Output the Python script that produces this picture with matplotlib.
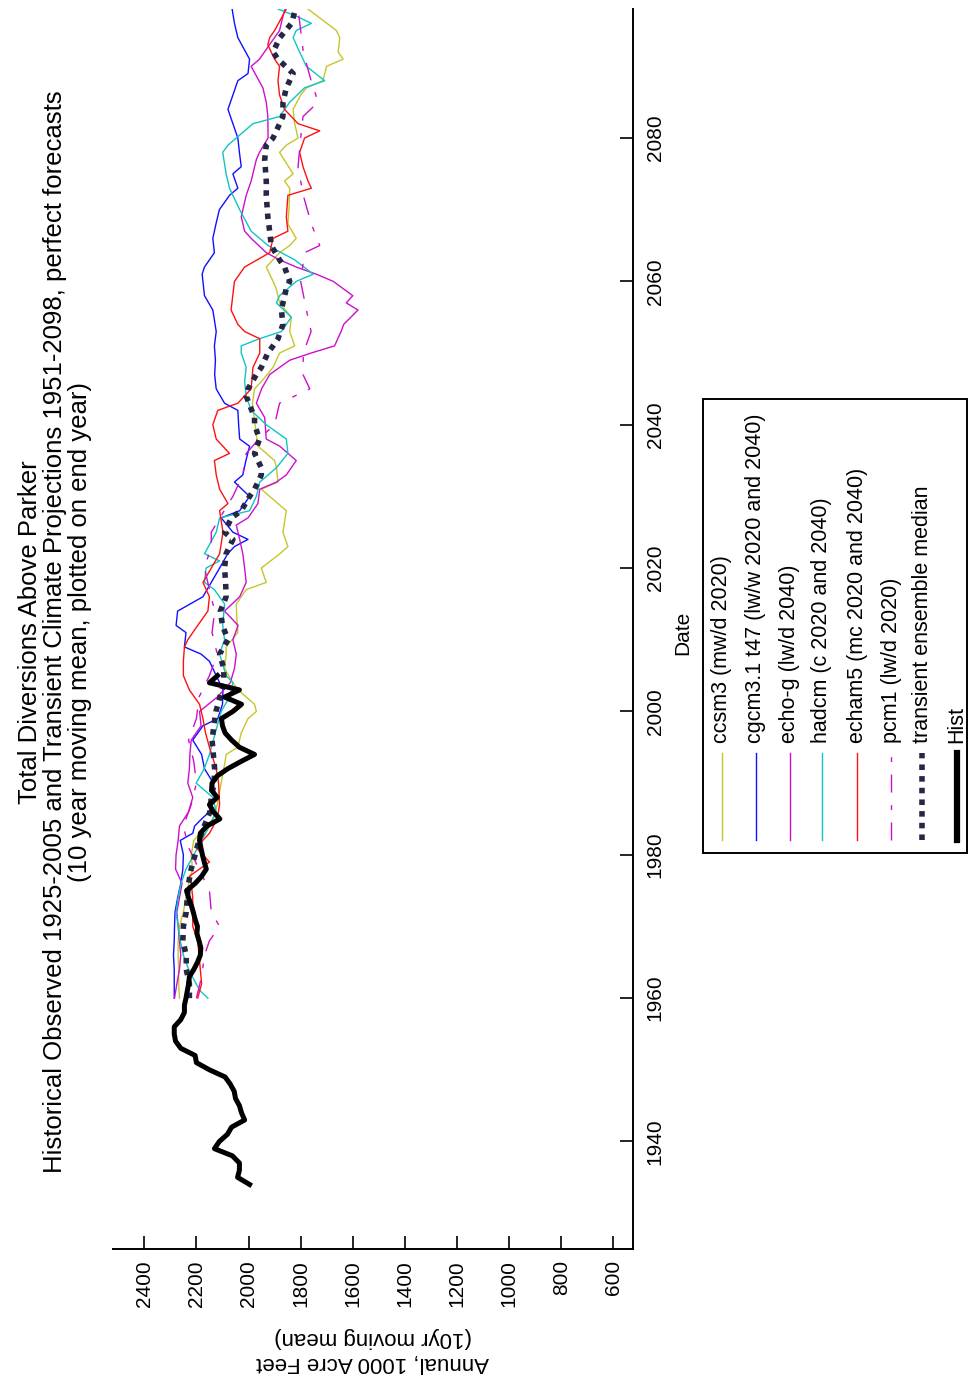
import matplotlib
matplotlib.use("Agg")
import matplotlib.pyplot as plt
from matplotlib.lines import Line2D
from matplotlib.patches import Rectangle

plt.rcParams["font.family"] = ["Liberation Sans", "DejaVu Sans"]

# ---- data (10 yr moving means, 1000 acre feet) ----
hist_years = list(range(1934, 2006))
hist_vals = [1996, 2042, 2035, 2035, 2062, 2131, 2112, 2081, 2065, 2015,
             2027, 2035, 2050, 2055, 2070, 2090, 2150, 2200, 2205, 2260,
             2280, 2285, 2285, 2260, 2246, 2246, 2240, 2235, 2230, 2227,
             2210, 2196, 2185, 2183, 2190, 2198, 2196, 2205, 2212, 2220,
             2230, 2238, 2205, 2180, 2162, 2170, 2177, 2183, 2188, 2185,
             2160, 2110, 2135, 2150, 2120, 2142, 2140, 2120, 2080, 2030,
             1977, 2035, 2065, 2090, 2100, 2104, 2060, 2027, 2092, 2035,
             2150, 2119]

ccsm3_years = [1960, 1962, 1964, 1966, 1968, 1970, 1972, 1974, 1976, 1978,
               1980, 1982, 1984, 1985, 1987, 1989, 1991, 1993, 1994, 1995,
               1997, 1999, 2000, 2001, 2003, 2004, 2006, 2008, 2009, 2011,
               2013, 2015, 2017, 2018, 2020, 2022, 2023, 2025, 2028, 2031,
               2032, 2034, 2035, 2037, 2040, 2043, 2045, 2046, 2048, 2050,
               2051, 2053, 2055, 2057, 2059, 2060, 2062, 2064, 2065, 2066,
               2068, 2070, 2073, 2074, 2075, 2078, 2079, 2080, 2082, 2084,
               2086, 2087, 2088, 2090, 2091, 2092, 2094, 2095, 2098]
ccsm3_vals = [2265, 2268, 2268, 2270, 2270, 2265, 2250, 2240, 2230, 2215,
              2220, 2210, 2160, 2137, 2120, 2110, 2100, 2090, 2086, 2041,
              2028, 2002, 1970, 1977, 2040, 2060, 2092, 2086, 2086, 2041,
              2045, 2047, 2009, 1932, 1951, 1880, 1849, 1868, 1855, 1951,
              1887, 1893, 1900, 1964, 1975, 1985, 1977, 1951, 1906, 1881,
              1823, 1842, 1836, 1881, 1894, 1906, 1932, 1881, 1842, 1817,
              1849, 1845, 1842, 1862, 1829, 1881, 1855, 1810, 1823, 1829,
              1800, 1778, 1714, 1701, 1637, 1656, 1650, 1663, 1772]

cgcm_years = [1960, 1962, 1964, 1966, 1968, 1970, 1972, 1974, 1976, 1978,
              1980, 1982, 1983, 1984, 1985, 1986, 1988, 1990, 1992, 1994,
              1996, 1998, 1999, 2001, 2003, 2005, 2007, 2008, 2009, 2011,
              2012, 2014, 2016, 2018, 2020, 2022, 2023, 2024, 2025, 2027,
              2028, 2030, 2032, 2033, 2035, 2037, 2038, 2040, 2042, 2043,
              2045, 2047, 2049, 2051, 2053, 2056, 2058, 2061, 2062, 2064,
              2066, 2068, 2070, 2072, 2073, 2075, 2076, 2078, 2080, 2082,
              2084, 2086, 2088, 2089, 2091, 2094, 2096, 2098]
cgcm_vals = [2285, 2285, 2285, 2288, 2285, 2284, 2282, 2272, 2260, 2252,
             2250, 2262, 2214, 2207, 2180, 2150, 2130, 2135, 2169, 2180,
             2214, 2175, 2118, 2100, 2098, 2124, 2150, 2182, 2246, 2240,
             2278, 2272, 2175, 2143, 2111, 2080, 2054, 2002, 2060, 2105,
             2034, 1996, 2054, 2022, 2010, 1996, 2034, 2038, 2041, 2092,
             2124, 2130, 2127, 2131, 2124, 2137, 2169, 2178, 2169, 2131,
             2137, 2125, 2112, 2073, 2041, 2060, 2028, 2035, 2041, 2060,
             2079, 2060, 2041, 2002, 1996, 2041, 2054, 2063]

echog_years = [1960, 1962, 1964, 1966, 1968, 1970, 1972, 1974, 1976, 1978,
               1980, 1982, 1984, 1986, 1988, 1990, 1992, 1994, 1996, 1998,
               2000, 2002, 2004, 2006, 2008, 2010, 2012, 2014, 2016, 2018,
               2020, 2022, 2024, 2026, 2027, 2029, 2031, 2032, 2033, 2035,
               2037, 2038, 2041, 2043, 2045, 2047, 2049, 2050, 2051, 2053,
               2054, 2056, 2057, 2058, 2060, 2061, 2062, 2063, 2064, 2066,
               2067, 2069, 2072, 2074, 2077, 2078, 2080, 2083, 2085, 2087,
               2089, 2090, 2091, 2093, 2095, 2097, 2098]
echog_vals = [2284, 2275, 2265, 2260, 2265, 2270, 2275, 2265, 2255, 2280,
              2278, 2270, 2265, 2230, 2214, 2233, 2227, 2225, 2220, 2182,
              2188, 2120, 2070, 2054, 2047, 2060, 2040, 2092, 2034, 2009,
              2015, 2022, 2034, 2047, 2002, 1964, 1957, 1893, 1855, 1817,
              1880, 1932, 1938, 1970, 1950, 1919, 1842, 1760, 1670, 1645,
              1635, 1580, 1625, 1600, 1675, 1740, 1817, 1881, 1932, 1990,
              2015, 2028, 2009, 1990, 1970, 1958, 1925, 1926, 1932, 1945,
              1975, 1990, 1958, 1920, 1881, 1868, 1860]

hadcm_years = [1960, 1961, 1962, 1964, 1966, 1968, 1970, 1972, 1974, 1976,
               1978, 1980, 1982, 1984, 1986, 1988, 1990, 1992, 1994, 1996,
               1998, 2000, 2002, 2004, 2005, 2008, 2010, 2012, 2015, 2017,
               2018, 2020, 2021, 2022, 2025, 2027, 2028, 2030, 2032, 2034,
               2036, 2038, 2040, 2042, 2044, 2046, 2048, 2050, 2051, 2052,
               2053, 2055, 2057, 2058, 2060, 2061, 2063, 2064, 2065, 2067,
               2070, 2073, 2075, 2078, 2079, 2082, 2083, 2085, 2087, 2088,
               2090, 2092, 2094, 2095, 2096, 2097, 2098]
hadcm_vals = [2156, 2185, 2201, 2230, 2250, 2262, 2270, 2278, 2270, 2259,
              2240, 2210, 2180, 2150, 2124, 2137, 2201, 2170, 2150, 2135,
              2120, 2105, 2073, 2060, 2086, 2111, 2092, 2099, 2092, 2131,
              2169, 2163, 2111, 2169, 2124, 2111, 1996, 1970, 1957, 1893,
              1849, 1855, 1932, 1990, 2009, 2015, 2009, 2028, 2028, 1958,
              1874, 1836, 1893, 1881, 1817, 1752, 1823, 1874, 1925, 1990,
              2034, 2073, 2086, 2099, 2079, 1983, 1881, 1842, 1785, 1708,
              1778, 1804, 1829, 1817, 1759, 1817, 1887]

echam5_years = [1960, 1962, 1964, 1966, 1968, 1970, 1972, 1974, 1976, 1977,
                1979, 1981, 1983, 1985, 1987, 1990, 1992, 1995, 1997, 1999,
                2001, 2003, 2005, 2007, 2009, 2010, 2012, 2014, 2016, 2018,
                2020, 2022, 2025, 2028, 2029, 2031, 2033, 2035, 2036, 2038,
                2040, 2042, 2043, 2045, 2048, 2050, 2052, 2053, 2054, 2056,
                2060, 2062, 2064, 2066, 2067, 2069, 2072, 2073, 2074, 2076,
                2078, 2080, 2081, 2082, 2084, 2086, 2088, 2090, 2091, 2093,
                2094, 2095, 2098]
echam5_vals = [2195, 2180, 2185, 2190, 2195, 2214, 2214, 2214, 2220, 2227,
               2150, 2201, 2150, 2120, 2111, 2115, 2124, 2150, 2165, 2175,
               2188, 2227, 2250, 2250, 2246, 2233, 2195, 2156, 2150, 2175,
               2143, 2111, 2098, 2111, 2079, 2111, 2124, 2131, 2073, 2124,
               2137, 2118, 2041, 1990, 1983, 1957, 1957, 2015, 2041, 2067,
               2054, 2015, 1919, 1906, 1849, 1855, 1849, 1759, 1772, 1791,
               1804, 1785, 1727, 1810, 1862, 1881, 1887, 1881, 1900, 1926,
               1919, 1900, 1855]

pcm1_years = [1960, 1963, 1966, 1968, 1970, 1972, 1975, 1978, 1981, 1984,
              1987, 1990, 1993, 1996, 1999, 2002, 2005, 2008, 2011, 2014,
              2017, 2020, 2023, 2025, 2027, 2030, 2033, 2036, 2038, 2040,
              2043, 2045, 2047, 2050, 2053, 2056, 2060, 2064, 2065, 2068,
              2072, 2076, 2080, 2083, 2085, 2088, 2092, 2095, 2098]
pcm1_vals = [2200, 2180, 2169, 2150, 2111, 2143, 2150, 2190, 2230, 2250,
             2220, 2200, 2210, 2230, 2200, 2190, 2150, 2120, 2140, 2130,
             2150, 2169, 2143, 2143, 2110, 2060, 2022, 2009, 1960, 1900,
             1881, 1765, 1791, 1790, 1760, 1778, 1800, 1785, 1727, 1759,
             1790, 1810, 1800, 1791, 1733, 1760, 1790, 1800, 1810]

median_years = [1960, 1962, 1964, 1966, 1968, 1970, 1972, 1974, 1976, 1978,
                1980, 1982, 1984, 1986, 1988, 1990, 1992, 1994, 1996, 1998,
                2000, 2002, 2004, 2006, 2008, 2010, 2012, 2014, 2016, 2018,
                2020, 2022, 2024, 2025, 2027, 2028, 2030, 2031, 2033, 2034,
                2036, 2038, 2040, 2041, 2044, 2045, 2047, 2048, 2050, 2051,
                2052, 2054, 2056, 2057, 2059, 2060, 2062, 2063, 2065, 2067,
                2069, 2072, 2074, 2077, 2079, 2080, 2083, 2085, 2087, 2089,
                2091, 2092, 2094, 2096, 2098]
median_vals = [2227, 2227, 2239, 2239, 2252, 2250, 2239, 2235, 2230, 2220,
               2205, 2190, 2170, 2148, 2143, 2132, 2130, 2135, 2140, 2133,
               2125, 2110, 2095, 2095, 2111, 2079, 2100, 2108, 2086, 2088,
               2092, 2086, 2060, 2092, 2066, 2028, 1996, 1977, 1951, 1951,
               1977, 1958, 1977, 1977, 2009, 2002, 1970, 1951, 1926, 1906,
               1887, 1868, 1874, 1868, 1855, 1842, 1862, 1881, 1913, 1919,
               1926, 1932, 1932, 1938, 1932, 1906, 1868, 1868, 1855, 1829,
               1887, 1906, 1880, 1835, 1820]

value_ticks = [2400, 2200, 2000, 1800, 1600, 1400, 1200, 1000, 800, 600]
year_ticks = [1940, 1960, 1980, 2000, 2020, 2040, 2060, 2080]

title_text = ("Total Diversions Above Parker\n"
              "Historical Observed 1925-2005 and Transient Climate Projections 1951-2098, perfect forecasts\n"
              "(10 year moving mean, plotted on end year)")

series = [
    (ccsm3_years, ccsm3_vals, "ccsm3 (mw/d 2020)", dict(color="#c6c62a", lw=1.0)),
    (cgcm_years, cgcm_vals, "cgcm3.1 t47 (lw/w 2020 and 2040)", dict(color="#1010ff", lw=1.0)),
    (echog_years, echog_vals, "echo-g (lw/d 2040)", dict(color="#cc10cc", lw=1.0)),
    (hadcm_years, hadcm_vals, "hadcm (c 2020 and 2040)", dict(color="#10c4c4", lw=1.0)),
    (echam5_years, echam5_vals, "echam5 (mc 2020 and 2040)", dict(color="#ff1010", lw=1.0)),
    (pcm1_years, pcm1_vals, "pcm1 (lw/d 2020)", dict(color="#cc10cc", lw=1.0, dashes=(13, 9, 3.5, 9))),
    (median_years, median_vals, "transient ensemble median", dict(color="#262646", lw=4.0, dashes=(1, 1.1), dash_capstyle="butt")),
    (hist_years, hist_vals, "Hist", dict(color="black", lw=3.6, solid_joinstyle="round")),
]

W, H = 969, 1388
fig = plt.figure(figsize=(W / 100, H / 100), dpi=100)
ax = fig.add_axes([113 / W, 1 - 1249 / H, 520 / W, 1240 / H])

for yrs, vals, label, style in series:
    ax.plot(vals, yrs, label=label, **style)

# chart is drawn turned a quarter turn: values run right-to-left, years bottom-to-top
ax.set_xlim(2520, 525)
ax.set_ylim(1925, 2098)
ax.set_xticks(value_ticks)
ax.set_yticks(year_ticks)

for side in ["left", "top"]:
    ax.spines[side].set_visible(False)
for side in ["right", "bottom"]:
    ax.spines[side].set_linewidth(1.4)
ax.yaxis.tick_right()
ax.tick_params(axis="both", direction="in", length=9.5, width=1.2, labelsize=15)
ax.tick_params(axis="x", labelrotation=90, pad=8)
ax.tick_params(axis="y", labelrotation=90, pad=9)
for t in ax.get_yticklabels():
    t.set_va("center")

ax.set_xlabel("Annual, 1000 Acre Feet\n(10yr moving mean)", fontsize=16, rotation=180, va="center")
ax.xaxis.set_label_coords(0.5, (1249 - 1350) / 1240)
ax.yaxis.set_label_position("right")
ax.set_ylabel("Date", fontsize=15, rotation=90, va="center", ha="center")
ax.yaxis.set_label_coords((683 - 113) / 520, (1249 - 633) / 1240)

fig.text(55 / W, 1 - 632 / H, title_text, rotation=90, ha="center", va="center",
         multialignment="center", fontsize=18.5, linespacing=1.05)

# legend, turned like the rest of the chart
fig.add_artist(Rectangle((703 / W, 1 - 853 / H), 264 / W, 454 / H, transform=fig.transFigure,
                         fill=False, edgecolor="black", linewidth=1.4))
leg_x = [722, 756, 790, 822, 857, 891, 922, 957]
for px, (yrs, vals, label, style) in zip(leg_x, series):
    st = dict(style)
    if label == "Hist":
        st["lw"] = 4.5
    fig.add_artist(Line2D([px / W, px / W], [1 - 840 / H, 1 - 753 / H], transform=fig.transFigure, **st))
    fig.text(px / W, 1 - 743 / H, label, rotation=90, ha="center", va="bottom", fontsize=15.5)

fig.savefig("out.png", dpi=100)
